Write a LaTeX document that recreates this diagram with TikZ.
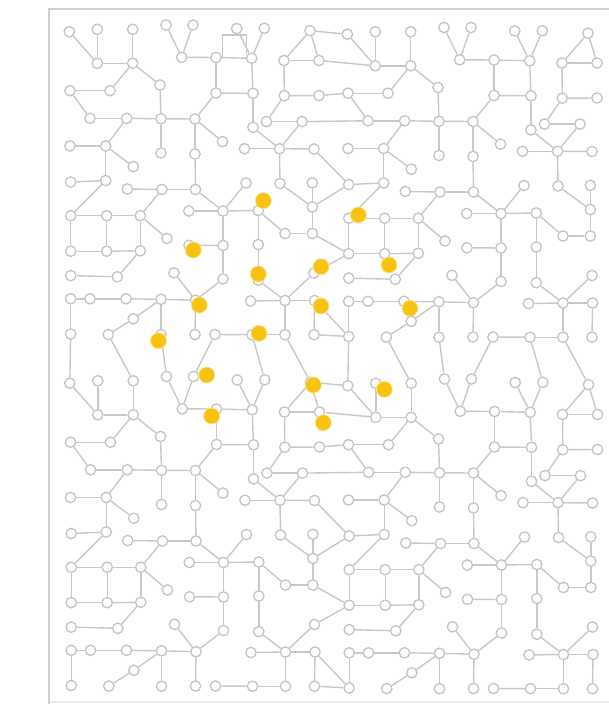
\documentclass[tikz,border=0pt]{standalone}
\usetikzlibrary{backgrounds}
\definecolor{edgegray}{RGB}{200,200,200}
\definecolor{nodegray}{RGB}{196,196,196}
\definecolor{framegray}{RGB}{208,208,208}
\definecolor{framelight}{RGB}{236,236,236}
\definecolor{gold}{RGB}{248,194,16}
\definecolor{goldrim}{RGB}{252,228,140}
\tikzset{
  gn/.style={circle,draw=nodegray,fill=white,line width=1.3pt,minimum size=10.4pt,inner sep=0pt},
  yn/.style={circle,fill=gold,draw=goldrim,line width=0.8pt,minimum size=16pt,inner sep=0pt},
  ed/.style={draw=edgegray,line width=1.4pt},
  framestyle/.style={draw=framegray,line width=2pt}
}
\newcommand{\tilenodes}{A1/69.3/31.7,A2/97.3/29.3,A3/132.7/29.3,A4/166/25,A5/193/25,A6/236.7/28.5,A7/264.3/28.3,A8/310/30.7,
B1/97.3/63.3,B2/132.7/63.3,B3/181.7/57.3,B4/216/57.5,B5/251.7/58.3,B6/284/60.5,B7/319/60.5,
C1/70/90.7,C2/110/90.7,C3/160/85,C4/216/93,C5/253/93.3,C6/284.3/95.7,C7/319/95.5,
D1/90/118.3,D2/126.7/118.3,D3/161/118.8,D4/195/119,D5/266.5/121.6,D6/302/121.6,D7/253/127.4,
E1/70/146,E2/105.7/146,E3/161/153,E4/195/154,E5/222.5/141.6,E6/244.5/148.7,E7/279.5/148.7,E8/314/149,
F1/133.3/166.7,F2/70.7/182,F3/105.7/180.5,
G1/127.3/189,G2/162/189.5,G3/195.5/189.5,G4/280/183.5,G5/246/183,G6/312.3/182.8,
H1/70.7/215.7,H2/106.7/215.7,H3/140.3/215.7,H4/188.8/211,H5/223/211,H6/258.3/210.5,H7/312.3/207,
I1/167/238.5,I2/285/233.5,I3/312.3/233.5,
J1/70.7/251.2,J2/106.7/251.2,J3/140.3/250.8,J4/223/245.5,J5/189/245.3,J6/258.3/244.5,
K1/70.7/275.6,K2/117.3/276.8,K3/174/272.8,K4/223/279,K5/258.3/280.2,K6/314/273,
L1/70.7/298.8,L2/90/298.8,L3/126/298.8,L4/161/299.3,L5/195.5/300.2,L6/250.5/301,L7/285/300.5,L8/314.5/300.5,
M1/133.3/318.8,M2/108.3/334.6,M3/70.7/334,M4/195/334.5,M5/215/334.5,M6/161/334.7,M7/252/334.7,M8/285/334.7,M9/314/334.7}
\newcommand{\tileedges}{A1/B1,A2/B1,B1/B2,A3/B2,B2/C2,B2/C3,C1/C2,C1/D1,D1/D2,D2/D3,C3/D3,D3/D4,D3/E3,D4/E4,D4/E5,D4/C4,C4/B4,A4/B3,A5/B3,B3/B4,D2/E2,E1/E2,E2/F1,E2/F3,
A6/B5,A7/B5,B4/B5,B5/C5,C4/C5,C5/D7,D7/E7,E6/E7,E7/E8,E7/G4,D6/E7,D5/D6,D5/C6,C6/B6,B6/B7,B6/A8,A8/B7,C6/C7,
E4/G3,F2/F3,F3/H1,H1/H2,H2/H3,H1/J1,H2/J2,J1/J2,J2/J3,H3/J3,H3/I1,J3/K2,K1/K2,G1/G2,G2/G3,G2/H3,G3/H5,H4/H5,H5/J4,J5/J4,J4/K4,K4/L5,K3/L5,L1/L2,L2/L3,L3/L4,L4/L5,L4/M6,L4/M1,M1/M2,L1/M3,L5/M4,
G5/H5,H5/H6,H6/I2,I2/I3,G4/H7,G6/H7,H7/I3,H6/J6,J6/K5,K5/L7,K6/L7,L6/L7,L7/L8,L7/M8,L8/M9,M5/M7,M7/M8}
\newcommand{\hcross}{A8/A1,B7/B1,C7/C1,D6/D1,E8/F2,H7/F2,I3/J1,K6/J1,L8/M3,M9/M3}
\newcommand{\vcross}{M3/A1,M6/A4,M5/A5,M7/A7,M8/A8,M2/A3}
\begin{document}
\begin{tikzpicture}[x=1pt,y=-1pt]
\useasboundingbox (0,0) rectangle (608,704);
\clip (0,0) rectangle (608,704);
% nodes of the four tiles
\foreach \i in {0,1}{
  \foreach \j in {0,1}{
    \begin{scope}[shift={(278*\i+0.5*\j,2.5*\i+351.5*\j)}]
      \foreach \n/\x/\y in \tilenodes { \node[gn] (\n-\i-\j) at (\x,\y) {}; }
    \end{scope}
  }
}
\begin{scope}[on background layer]
  \draw[draw=framelight,line width=2pt] (49,701.5) -- (620,701.5);
  \draw[framestyle] (620,8.5) -- (49,8.5) -- (49,704);
  \foreach \i in {0,1}{
    \foreach \j in {0,1}{
      \foreach \a/\b in \tileedges { \draw[ed] (\a-\i-\j) -- (\b-\i-\j); }
    }
  }
  \foreach \j in {0,1}{
    \foreach \a/\b in \hcross { \draw[ed] (\a-0-\j) -- (\b-1-\j); }
  }
  \foreach \i in {0,1}{
    \foreach \a/\b in \vcross { \draw[ed] (\a-\i-0) -- (\b-\i-1); }
  }
  \coordinate (sqa) at (222.7,57.5);
  \coordinate (sqb) at (222.7,35);
  \coordinate (sqc) at (246.7,35);
  \coordinate (sqd) at (246.7,54);
  \draw[ed,line width=1.1pt] (sqa) -- (sqb) -- (sqc) -- (sqd);
\end{scope}
% highlighted nodes
\foreach \k/\x/\y in {y1/263.3/200.7,y2/358.3/215,y3/193.3/250,y4/258.3/274,y5/321/266.7,y6/389/265,y7/199.3/305,y8/321/306,y9/410/308.3,y10/259/333.3,y11/158.5/340.7,y12/206.7/375,y13/211.7/416,y14/313.3/385,y15/384.3/389.3,y16/323.3/422.7}
  { \node[yn] (\k) at (\x,\y) {}; }
\end{tikzpicture}
\end{document}
